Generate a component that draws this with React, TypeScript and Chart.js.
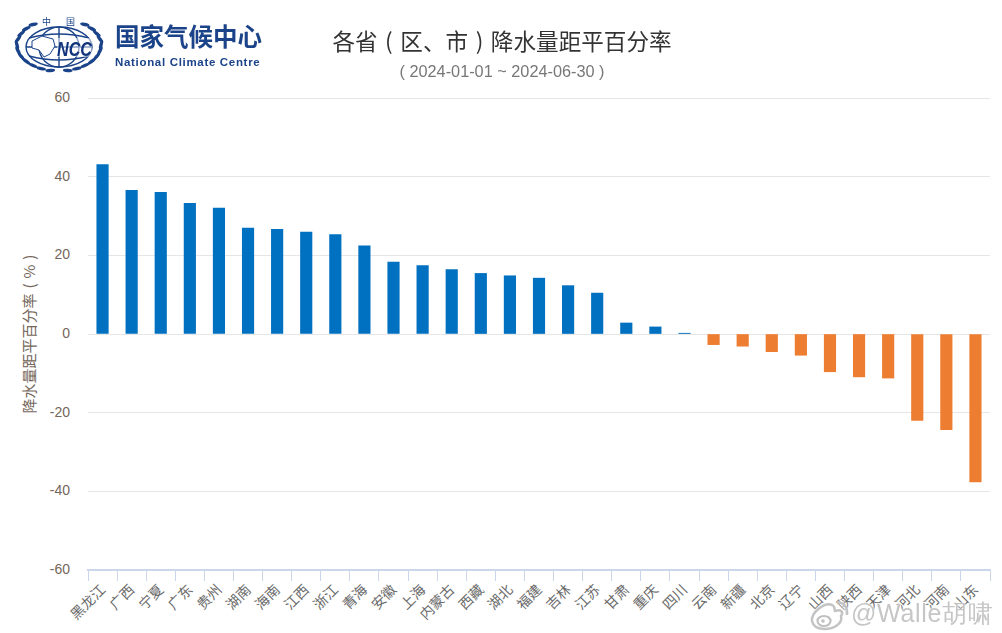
import React, { useEffect, useRef } from "react";
import { Chart, registerables } from "chart.js";

Chart.register(...registerables);

const categories = ["黑龙江","广西","宁夏","广东","贵州","湖南","海南","江西","浙江","青海","安徽","上海","内蒙古","西藏","湖北","福建","吉林","江苏","甘肃","重庆","四川","云南","新疆","北京","辽宁","山西","陕西","天津","河北","河南","山东"];
const anomaly = [43.1,36.5,36,33.2,32,26.9,26.6,25.9,25.3,22.4,18.3,17.4,16.4,15.4,14.8,14.2,12.3,10.4,2.8,1.8,0.2,-2.7,-3.1,-4.5,-5.4,-9.6,-10.9,-11.2,-22,-24.3,-37.6];
const chartTitle = "各省 ( 区、市 ) 降水量距平百分率";
const dateRange = "( 2024-01-01 ~ 2024-06-30 )";
const yTitle = "降水量距平百分率 ( % )";

const BLUE = "#0070c0";
const ORANGE = "#ed7d31";
const NAVY = "#1b4389";
const AXIS_TEXT = "#74665a";
const CJK = '"Noto Sans CJK SC", "Noto Sans", sans-serif';
const LATIN = '"Liberation Sans", Arial, sans-serif';

function Logo() {
  const leaves = [];
  for (let i = 0; i < 11; i++) {
    const deg = 128 + i * 13;
    const a = (deg * Math.PI) / 180;
    const x = 59 + 42 * Math.cos(a);
    const y = 45 - 26 * Math.sin(a);
    const rot = 90 - deg + 90 + (deg < 180 ? 25 : -15);
    leaves.push(<ellipse key={"l" + i} cx={x} cy={y} rx="1.7" ry="4.8" transform={`rotate(${rot} ${x} ${y})`} fill={NAVY} />);
    const xr = 118 - x;
    leaves.push(<ellipse key={"r" + i} cx={xr} cy={y} rx="1.7" ry="4.8" transform={`rotate(${-rot} ${xr} ${y})`} fill={NAVY} />);
  }
  return (
    <svg width="100" height="66" viewBox="10 12 100 66" style={{ position: "absolute", left: 10, top: 12 }}>
      {leaves}
      <g fill="none" stroke={NAVY} strokeWidth="1.4">
        <ellipse cx="59" cy="47" rx="33" ry="20" />
        <ellipse cx="59" cy="47" rx="20" ry="20" />
        <path d="M59 27 V67" />
        <path d="M29 38 Q59 30 89 38 M29 56 Q59 64 89 56 M26 47 H92" />
      </g>
      <path d="M32 41 L42 36 L53 39 L55 46 L50 54 L44 57 L39 50 L32 48 Z" fill="#fff" stroke={NAVY} strokeWidth="1" />
      <rect x="57" y="38" width="35" height="19" fill="#fff" opacity="0.5" />
      <text x="57" y="56" fontFamily={LATIN} fontWeight="bold" fontStyle="italic" fontSize="20" fill="#10357c" textLength="35" lengthAdjust="spacingAndGlyphs">NCC</text>
      <text x="42" y="25" fontFamily={CJK} fontSize="9" fill={NAVY}>中</text>
      <text x="66" y="25" fontFamily={CJK} fontSize="9" fill={NAVY}>国</text>
    </svg>
  );
}

const abs = (left: number, top: number, style: any = {}) => ({ position: "absolute", left, top, whiteSpace: "pre", ...style });

export default function App() {
  const ref = useRef<HTMLCanvasElement>(null);
  useEffect(() => {
    document.body.style.margin = "0";
    const canvas = ref.current!;
    canvas.getContext("2d", { alpha: false });
    const chart = new Chart(canvas, {
      type: "bar",
      data: {
        labels: categories,
        datasets: [{
          data: anomaly,
          backgroundColor: anomaly.map((v) => (v >= 0 ? BLUE : ORANGE)),
          barThickness: 11.5,
          borderWidth: 0,
        }],
      },
      plugins: [{
        id: "bg",
        beforeDraw(c: any) {
          c.ctx.save();
          c.ctx.fillStyle = "#fff";
          c.ctx.fillRect(0, 0, c.width, c.height);
          c.ctx.restore();
          c.ctx.wordSpacing = "1.6px";
        },
      }],
      options: {
        responsive: false,
        animation: false,
        layout: { padding: { left: 0, right: 12, top: 98, bottom: 0 } },
        plugins: { legend: { display: false }, title: { display: false }, tooltip: { enabled: false } },
        scales: {
          x: {
            afterFit(s: any) { s.height = 63; },
            grid: { offset: true, drawOnChartArea: false, tickLength: 11, tickColor: "#ccd6eb", tickWidth: 1 },
            border: { color: "#ccd6eb", width: 2 },
            ticks: {
              autoSkip: false, minRotation: 45, maxRotation: 45, padding: 0,
              color: "#6a6a6a", font: { family: CJK, size: 14 },
            },
          },
          y: {
            min: -60, max: 60,
            afterFit(s: any) { s.width = 88; },
            grid: { color: "#e6e6e6", drawTicks: false },
            border: { display: false },
            ticks: { stepSize: 20, padding: 18, color: AXIS_TEXT, font: { family: LATIN, size: 14 } },
            title: {
              display: true, text: yTitle, color: AXIS_TEXT,
              font: { family: CJK, size: 15 }, padding: { top: 20, bottom: 0 },
            },
          },
        },
      },
    } as any);
    return () => chart.destroy();
  }, []);
  return (
    <div style={{ position: "fixed", left: 0, top: 0, width: 1002, height: 633, background: "#fff", overflow: "hidden" }}>
      <canvas ref={ref} width={1002} height={633} style={{ position: "absolute", left: 0, top: 0, display: "block" }} />
      <Logo />
      <div style={abs(115, 18, { fontFamily: CJK, fontWeight: 700, fontSize: 24.5, lineHeight: "36px", color: NAVY })}>国家气候中心</div>
      <div style={abs(115, 55, { fontFamily: LATIN, fontWeight: 700, fontSize: 11.5, lineHeight: "15px", letterSpacing: 0.68, color: NAVY })}>National Climate Centre</div>
      <div style={abs(1, 23, { fontFamily: CJK, fontSize: 22.6, lineHeight: "36px", wordSpacing: 2.5, color: "#333", width: 1002, textAlign: "center" })}>{chartTitle}</div>
      <div style={abs(1, 61, { fontFamily: LATIN, fontSize: 16.3, lineHeight: "20px", color: "#777", width: 1002, textAlign: "center" })}>{dateRange}</div>
      <svg width="46" height="36" viewBox="0 0 46 36" style={{ position: "absolute", left: 807, top: 597, filter: "drop-shadow(0 0 2px #fff)" }}>
        <path d="M5 24 C4 15 18 5 25 8 C29 10 27 13 28 14 C34 12 37 15 34 19 C36 27 26 32 18 32 C11 32 6 29 5 24 Z" fill="#fff" stroke="#c4c4c4" strokeWidth="2.5" />
        <ellipse cx="17" cy="24" rx="6.5" ry="5" fill="none" stroke="#c0c0c0" strokeWidth="2.2" />
        <circle cx="16" cy="24" r="1.8" fill="#c0c0c0" />
        <path d="M30 5 Q41 6 40 18" fill="none" stroke="#c4c4c4" strokeWidth="2.5" />
      </svg>
      <div style={abs(851, 596, { fontFamily: LATIN, fontSize: 25, lineHeight: "34px", letterSpacing: 0.7, color: "#c6c6c6", textShadow: "0 0 2px #fff, 0 0 3px #fff" })}>@Walle胡啸</div>
    </div>
  );
}
